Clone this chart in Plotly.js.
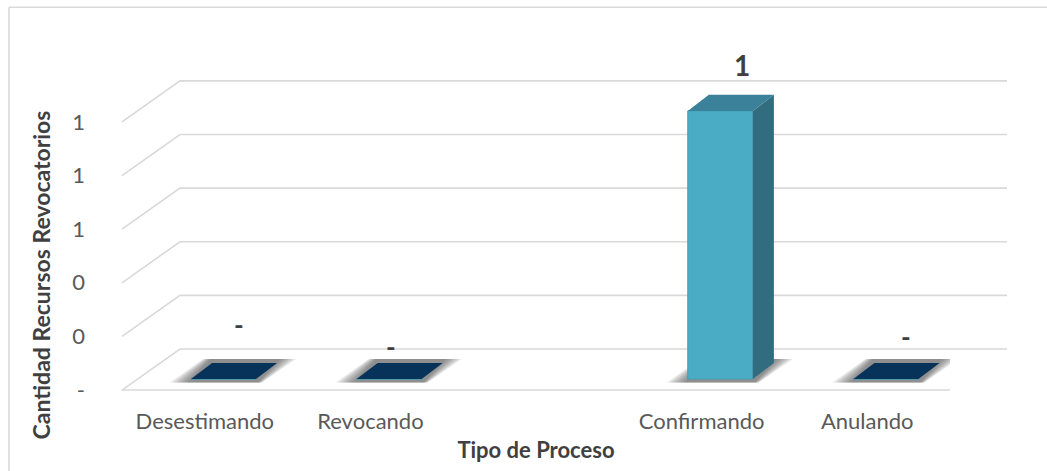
<!DOCTYPE html>
<html>
<head>
<meta charset="utf-8">
<script src="https://cdn.plot.ly/plotly-3.0.0.min.js"></script>
<style>html,body{margin:0;padding:0;background:#fff}#c{width:1047px;height:471px}</style>
</head>
<body>
<div id="c"></div>
<script>
// ---- data ----
var categories = ["Desestimando", "Revocando", "", "Confirmando", "Anulando"];
var values = [0, 0, null, 1, 0];
var valueLabels = ["-", "-", "", "1", "-"];
var axisTicks = [0, 0.2, 0.4, 0.6, 0.8, 1];
var axisTickLabels = ["-", "0", "0", "1", "1", "1"];

// ---- geometry of the pseudo-3D projection, in axis units ----
var xMin = -0.5, xFrontMax = 4.5;
var yMin = -0.302, yMax = 1.16;
var xDomainEnd = 0.9356;                  // front floor edge as a share of the plot width
var wallDx = 0.35, wallDy = 0.153;        // floor depth
var barW = 0.393, barOff = 0.113;         // front-face width, offset from category centre
var baseY = 0.041;                        // front of bar stands this far above axis zero
var depthDx = 0.127, depthDy = 0.06;      // bar depth
var labelShift = [[34, 65], [21, 43], [0, 0], [40, 57], [39, 53]]; // data label offset (px)

function toPaper(x) { return (x - xMin) / (xFrontMax - xMin) * xDomainEnd; }
function poly(xs, ys, fill) {
  return {type: "scatter", mode: "lines", x: xs.concat(xs[0]), y: ys.concat(ys[0]), fill: "toself",
    fillcolor: fill, line: {width: 0}, hoverinfo: "skip", showlegend: false};
}
function gridLine(xs, ys) {
  var d = xs.map(function (x, i) { return (i ? "L" : "M") + x + "," + ys[i]; }).join(" ");
  return {type: "path", path: d, xref: "paper", yref: "y", layer: "below", line: {color: "#d9d9d9", width: 1.6}};
}
function polyShape(xs, ys, fill) {
  var d = xs.map(function (x, i) { return (i ? "L" : "M") + x + "," + ys[i]; }).join(" ") + " Z";
  return {type: "path", path: d, xref: "x", yref: "y", layer: "below", fillcolor: fill, line: {width: 0}};
}

var traces = [];
var shapes = [];
// walls and floor
axisTicks.forEach(function (t) {
  var by = t + wallDy, bx = xMin + wallDx;
  shapes.push(gridLine([toPaper(xMin), toPaper(bx), 1], [t, by, by]));
});
shapes.push(gridLine([toPaper(xMin), toPaper(xFrontMax)], [0, 0]));

// soft floor shadows, then bars
values.forEach(function (v, i) {
  if (v === null) return;
  var x0 = i + barOff - barW / 2, x1 = x0 + barW;
  var y0 = baseY;
  var n = 7;
  for (var k = n; k >= 0; k--) {
    var f = k / n;
    shapes.push(polyShape(
      [x0 - 0.02 - 0.107 * f, x1 + 0.012 + 0.024 * f, x1 + depthDx + 0.02 + 0.095 * f, x0 + depthDx - 0.01 - 0.044 * f],
      [y0 - 0.013, y0 - 0.013, y0 + depthDy + 0.015, y0 + depthDy + 0.015],
      "rgba(70,70,70,0.11)"));
  }
  if (v > 0) {
    // side face and top face
    traces.push(poly([x1, x1 + depthDx, x1 + depthDx, x1], [y0, y0 + depthDy, y0 + depthDy + v, y0 + v], "#316d7f"));
    traces.push(poly([x0, x0 + depthDx, x1 + depthDx, x1], [y0 + v, y0 + depthDy + v, y0 + depthDy + v, y0 + v], "#3a8199"));
  } else {
    traces.push(poly([x0, x0 + depthDx, x1 + depthDx, x1], [y0, y0 + depthDy, y0 + depthDy, y0], "#07335a"));
  }
});

// front faces of the real bars
traces.push({
  type: "bar",
  x: categories.map(function (c, i) { return i + barOff; }),
  y: values,
  base: baseY,
  width: barW,
  marker: {color: "#4bacc6", line: {color: "#449cb4", width: 1}},
  hoverinfo: "skip",
  showlegend: false
});

var annotations = [];
values.forEach(function (v, i) {
  if (v === null) return;
  annotations.push({
    x: i, y: v, text: valueLabels[i], showarrow: false,
    xshift: labelShift[i][0], yshift: labelShift[i][1],
    font: {family: "Lato, sans-serif", size: v > 0 ? 28 : 26, color: "#404040", weight: 700}
  });
});

shapes.push({type: "line", xref: "paper", yref: "paper", layer: "below",
  x0: -0.1277, x1: -0.1277, y0: 0, y1: 1.183, line: {color: "#d9d9d9", width: 1.6}});
shapes.push({type: "line", xref: "paper", yref: "paper", layer: "below",
  x0: -0.1277, x1: 1.0452, y0: 1.183, y1: 1.183, line: {color: "#d9d9d9", width: 1.6}});

var layout = {
  width: 1047, height: 471,
  margin: {l: 122, r: 40, t: 79, b: 0, pad: 0},
  paper_bgcolor: "#fff", plot_bgcolor: "rgba(0,0,0,0)",
  font: {family: "Lato, sans-serif", color: "#595959"},
  xaxis: {
    domain: [0, xDomainEnd],
    range: [xMin, xFrontMax], tickmode: "array", anchor: "free", position: 0.2066,
    tickvals: categories.map(function (c, i) { return i; }), ticktext: categories,
    showgrid: false, zeroline: false, showline: false, ticks: "",
    tickfont: {size: 22, color: "#595959"}, ticklabelstandoff: 16,
    title: {text: "Tipo de Proceso", font: {size: 22, color: "#404040", weight: 700}, standoff: 9}
  },
  yaxis: {
    range: [yMin, yMax], tickmode: "array", tickvals: axisTicks, ticktext: axisTickLabels,
    showgrid: false, zeroline: false, showline: false, ticks: "",
    tickfont: {size: 22, color: "#595959"}, ticklabelstandoff: 36,
    title: {text: "Cantidad Recursos Revocatorios", font: {size: 23, color: "#404040", weight: 700}, standoff: 15}
  },
  annotations: annotations,
  shapes: shapes
};
Plotly.newPlot("c", traces, layout, {displayModeBar: false, responsive: false});
</script>
</body>
</html>
